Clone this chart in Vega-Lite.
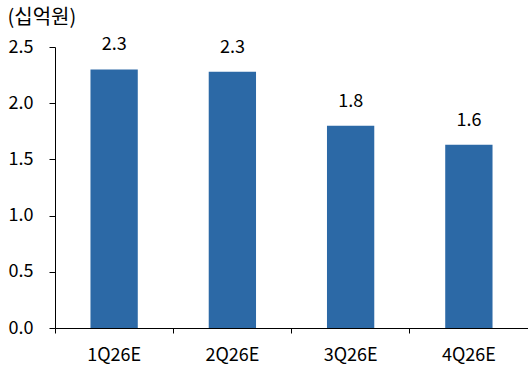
{
  "$schema": "https://vega.github.io/schema/vega-lite/v6.json",
  "width": 473,
  "height": 281,
  "autosize": {"type": "none"},
  "padding": {"left": 55, "top": 47, "right": 0, "bottom": 39},
  "background": "white",
  "config": {
    "view": {"stroke": null},
    "font": "Noto Sans CJK KR",
    "axis": {"grid": false, "domainColor": "#000000", "tickColor": "#000000", "labelColor": "#000000", "labelFont": "Noto Sans CJK KR", "labelFontSize": 18, "titleFont": "Noto Sans CJK KR"}
  },
  "data": {
    "values": [
      {"quarter": "1Q26E", "value": 2.30},
      {"quarter": "2Q26E", "value": 2.28},
      {"quarter": "3Q26E", "value": 1.80},
      {"quarter": "4Q26E", "value": 1.63}
    ]
  },
  "encoding": {
    "x": {
      "field": "quarter",
      "type": "nominal",
      "sort": null,
      "scale": {"paddingInner": 0, "paddingOuter": 0},
      "axis": {
        "title": null,
        "labelAngle": 0,
        "bandPosition": 0,
        "tickSize": 5,
        "labelBaseline": "alphabetic",
        "labelPadding": 27,
        "domainWidth": 1,
        "tickWidth": 1
      }
    },
    "y": {
      "field": "value",
      "type": "quantitative",
      "scale": {"domain": [0, 2.5], "nice": false},
      "axis": {
        "values": [0, 0.5, 1, 1.5, 2, 2.5],
        "format": ".1f",
        "tickSize": 6,
        "labelPadding": 16,
        "labelBaseline": "middle",
        "title": "(십억원)",
        "titleAngle": 0,
        "titleAlign": "left",
        "titleBaseline": "middle",
        "titleX": -48,
        "titleY": -30,
        "titleFontSize": 20,
        "titleFontWeight": "normal",
        "titleColor": "#000000"
      }
    }
  },
  "layer": [
    {
      "mark": {"type": "bar", "color": "#2c69a6", "width": {"band": 0.4}}
    },
    {
      "mark": {"type": "text", "fontSize": 18, "color": "#000000", "baseline": "alphabetic", "align": "center", "dy": -19},
      "encoding": {
        "text": {"field": "value", "type": "quantitative", "format": ".1f"}
      }
    }
  ]
}
